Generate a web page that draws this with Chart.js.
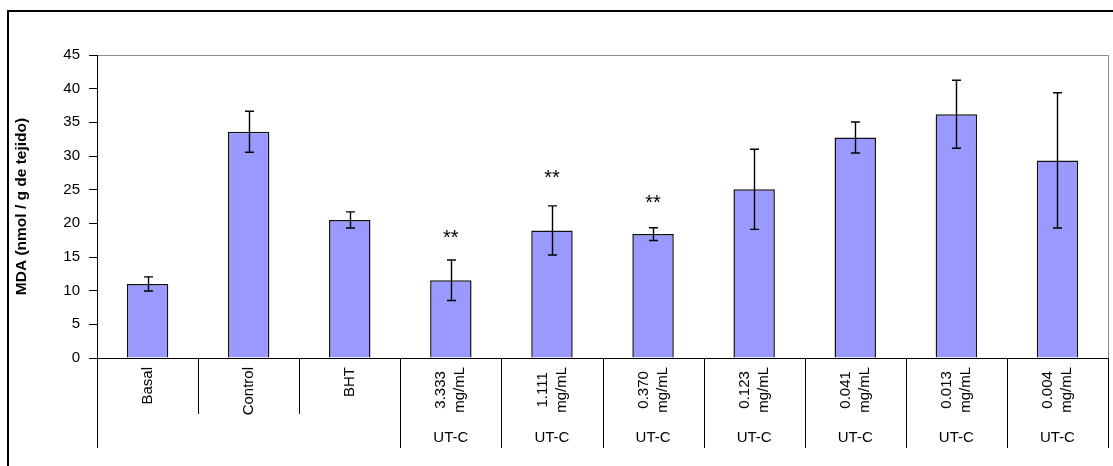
<!DOCTYPE html>
<html lang="es">
<head>
  <meta charset="UTF-8">
  <title>MDA (nmol / g de tejido)</title>
  <script src="https://cdn.jsdelivr.net/npm/chart.js"></script>
  <style>
    body {
      margin: 0;
      background: #fff;
    }

    .chart-container {
      position: relative;
      width: 1113px;
      height: 466px;
    }
  </style>
</head>
<body>
  <div class="chart-container">
    <canvas id="mdaChart"></canvas>
  </div>

  <script>
    // Treatments (first label row), one entry per bar
    const categories = [
      ['Basal'], ['Control'], ['BHT'],
      ['3.333', 'mg/mL'], ['1.111', 'mg/mL'], ['0.370', 'mg/mL'], ['0.123', 'mg/mL'],
      ['0.041', 'mg/mL'], ['0.013', 'mg/mL'], ['0.004', 'mg/mL']
    ];
    // Second label row: group names and how many bars each one spans
    const groupLabels = ['', 'UT-C', 'UT-C', 'UT-C', 'UT-C', 'UT-C', 'UT-C', 'UT-C'];
    const groupSizes = [3, 1, 1, 1, 1, 1, 1, 1];

    // MDA mean and standard deviation
    const mdaMean = [11.0, 33.6, 20.5, 11.55, 18.95, 18.4, 25.05, 32.75, 36.2, 29.35];
    const mdaSD = [1.05, 3.05, 1.2, 3.0, 3.65, 0.95, 5.95, 2.3, 5.05, 10.05];

    // Significance marks and the level where they sit
    const sigMarks = ['', '', '', '**', '**', '**', '', '', '', ''];
    const sigLevel = [null, null, null, 18.6, 27.5, 23.9, null, null, null, null];

    const FONT = 'Arial, "Liberation Sans", sans-serif';

    // Outer frame and plot-area outline
    const framePlugin = {
      id: 'frame',
      beforeDraw(chart) {
        const { ctx, chartArea: a } = chart;
        ctx.save();
        ctx.strokeStyle = '#000';
        ctx.lineWidth = 2;
        ctx.beginPath();
        ctx.moveTo(8, chart.height);
        ctx.lineTo(8, 11);
        ctx.lineTo(chart.width, 11);
        ctx.stroke();

        ctx.strokeStyle = '#8c8c8c';
        ctx.lineWidth = 1;
        ctx.beginPath();
        ctx.moveTo(a.left, a.top + 0.5);
        ctx.lineTo(a.right + 0.5, a.top + 0.5);
        ctx.lineTo(a.right + 0.5, a.bottom);
        ctx.stroke();
        ctx.restore();
      }
    };

    // Error bars, significance stars and the two-row category axis
    const overlayPlugin = {
      id: 'overlay',
      afterDatasetsDraw(chart) {
        const { ctx, chartArea: a } = chart;
        const xs = chart.scales.x;
        const ys = chart.scales.y;
        const bars = chart.getDatasetMeta(0).data;
        const n = categories.length;
        const slot = (a.right - a.left) / n;

        ctx.save();

        // error bars
        ctx.strokeStyle = '#000';
        ctx.lineWidth = 1.4;
        bars.forEach((bar, i) => {
          const x = Math.round(bar.x) + 0.5;
          const yHi = ys.getPixelForValue(mdaMean[i] + mdaSD[i]);
          const yLo = ys.getPixelForValue(mdaMean[i] - mdaSD[i]);
          ctx.beginPath();
          ctx.moveTo(x, yHi);
          ctx.lineTo(x, yLo);
          ctx.moveTo(x - 4.5, yHi);
          ctx.lineTo(x + 4.5, yHi);
          ctx.moveTo(x - 4.5, yLo);
          ctx.lineTo(x + 4.5, yLo);
          ctx.stroke();
        });

        // stars
        ctx.fillStyle = '#000';
        ctx.font = '20px ' + FONT;
        ctx.textAlign = 'center';
        ctx.textBaseline = 'alphabetic';
        sigMarks.forEach((m, i) => {
          if (!m) return;
          ctx.fillText(m, xs.getPixelForValue(i), ys.getPixelForValue(sigLevel[i]) + 11.5);
        });

        // axis lines
        ctx.lineWidth = 1;
        ctx.beginPath();
        ctx.moveTo(a.left, a.bottom + 0.5);
        ctx.lineTo(a.right + 1, a.bottom + 0.5);
        ctx.moveTo(a.left + 0.5, a.bottom);
        ctx.lineTo(a.left + 0.5, a.bottom + 90);
        ctx.stroke();

        // separators: full height at group boundaries, short otherwise
        const groupEdges = new Set([0]);
        let acc = 0;
        groupSizes.forEach(s => { acc += s; groupEdges.add(acc); });
        ctx.beginPath();
        for (let k = 1; k <= n; k++) {
          const x = Math.round(a.left + k * slot) + 0.5;
          ctx.moveTo(x, a.bottom);
          ctx.lineTo(x, a.bottom + (groupEdges.has(k) ? 90 : 56));
        }
        ctx.stroke();

        // first row: rotated treatment labels
        ctx.font = '15px ' + FONT;
        ctx.textAlign = 'center';
        ctx.textBaseline = 'middle';
        categories.forEach((lines, i) => {
          const w = Math.max(...lines.map(t => ctx.measureText(t).width));
          ctx.save();
          ctx.translate(xs.getPixelForValue(i), a.bottom + 9 + w / 2);
          ctx.rotate(-Math.PI / 2);
          lines.forEach((t, j) => ctx.fillText(t, 0, (j - (lines.length - 1) / 2) * 19));
          ctx.restore();
        });

        // second row: group labels
        let start = 0;
        groupLabels.forEach((g, gi) => {
          const cx = a.left + (start + groupSizes[gi] / 2) * slot;
          if (g) ctx.fillText(g, cx, a.bottom + 80);
          start += groupSizes[gi];
        });

        ctx.restore();
      }
    };

    const ctx = document.getElementById('mdaChart').getContext('2d');
    new Chart(ctx, {
      type: 'bar',
      data: {
        labels: categories.map(c => c.join(' ')),
        datasets: [{
          data: mdaMean,
          backgroundColor: '#9999ff',
          borderColor: '#111',
          borderWidth: 1.5,
          barPercentage: 0.41,
          categoryPercentage: 1
        }]
      },
      options: {
        responsive: true,
        maintainAspectRatio: false,
        animation: false,
        layout: { padding: { top: 55, right: 5, left: 0, bottom: 0 } },
        plugins: {
          legend: { display: false },
          tooltip: { enabled: false }
        },
        scales: {
          x: {
            ticks: { display: false },
            grid: { display: false },
            border: { display: false },
            afterFit: s => { s.height = 108; }
          },
          y: {
            min: 0,
            max: 45,
            ticks: {
              stepSize: 5,
              color: '#000',
              padding: 9,
              font: { size: 15, family: FONT }
            },
            grid: {
              drawOnChartArea: false,
              drawTicks: true,
              tickLength: 8,
              color: '#000'
            },
            border: { display: true, color: '#000', width: 1 },
            title: {
              display: true,
              text: 'MDA (nmol / g de tejido)',
              color: '#000',
              font: { size: 15.5, weight: 'bold', family: FONT },
              padding: { top: 12, bottom: 0 }
            },
            afterFit: s => { s.width = 97; }
          }
        }
      },
      plugins: [framePlugin, overlayPlugin]
    });
  </script>
</body>
</html>
